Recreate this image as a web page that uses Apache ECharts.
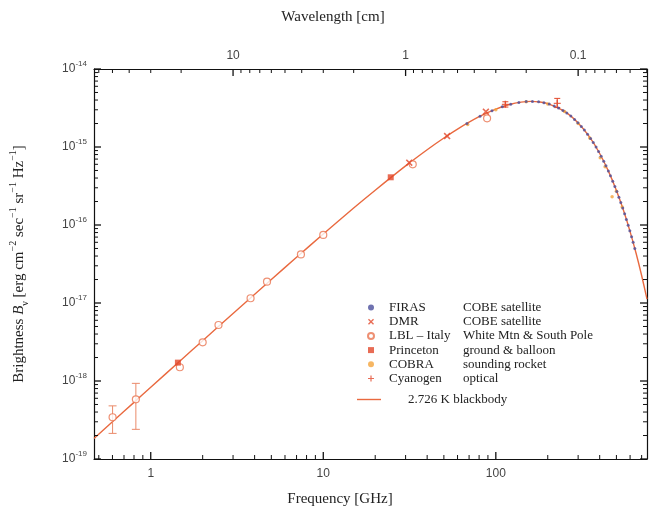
<!DOCTYPE html>
<html>
<head>
<meta charset="utf-8">
<title>Cosmic background spectrum</title>
<script src="https://cdn.jsdelivr.net/npm/echarts@6/dist/echarts.min.js"></script>
<style>
  html, body { margin: 0; padding: 0; background: #fff; }
  #chart { width: 649px; height: 511px; }
</style>
</head>
<body>
<div id="chart"></div>
<script>
// frequency in GHz, brightness in erg cm^-2 sec^-1 sr^-1 Hz^-1
const curveFreq = [0.469, 0.6, 0.8, 1, 1.5, 2, 3, 5, 7, 10, 15, 20, 30, 40, 50, 60, 80, 100, 120, 140,
  160, 180, 200, 250, 300, 350, 400, 450, 500, 550, 600, 650, 700, 752];
const curveB = [1.835e-19, 3.0e-19, 5.32e-19, 8.30e-19, 1.86e-18, 3.29e-18, 7.34e-18, 2.00e-17, 3.86e-17,
  7.66e-17, 1.65e-16, 2.79e-16, 5.72e-16, 9.23e-16, 1.306e-15, 1.698e-15, 2.443e-15, 3.061e-15, 3.504e-15,
  3.760e-15, 3.841e-15, 3.774e-15, 3.594e-15, 2.859e-15, 2.034e-15, 1.336e-15, 8.26e-16, 4.87e-16,
  2.77e-16, 1.53e-16, 8.23e-17, 4.34e-17, 2.25e-17, 1.12e-17];

const firasFreq = [68, 81, 95, 109, 122, 136, 150, 163, 177, 190, 204, 218, 231, 245, 258, 272, 286, 299,
  313, 326, 340, 354, 367, 381, 394, 408, 422, 435, 449, 462, 476, 490, 503, 517, 530, 544, 558, 571, 585,
  598, 612, 625, 639];
const firasB = [2.006e-15, 2.478e-15, 2.922e-15, 3.284e-15, 3.538e-15, 3.723e-15, 3.820e-15, 3.839e-15,
  3.792e-15, 3.696e-15, 3.547e-15, 3.361e-15, 3.167e-15, 2.942e-15, 2.725e-15, 2.490e-15, 2.258e-15,
  2.050e-15, 1.836e-15, 1.648e-15, 1.461e-15, 1.288e-15, 1.141e-15, 9.97e-16, 8.77e-16, 7.61e-16, 6.58e-16,
  5.73e-16, 4.93e-16, 4.27e-16, 3.65e-16, 3.11e-16, 2.68e-16, 2.27e-16, 1.95e-16, 1.65e-16, 1.39e-16,
  1.18e-16, 9.94e-17, 8.44e-17, 7.07e-17, 5.99e-17, 5.00e-17];

const dmrFreq = [31.5, 52.2, 87.6];
const dmrB = [6.3e-16, 1.38e-15, 2.84e-15];

const lblFreq = [0.601, 0.82, 1.475, 2.0, 2.47, 3.79, 4.72, 7.42, 10.0, 33.0, 89.0];
const lblB = [3.43e-19, 5.82e-19, 1.50e-18, 3.13e-18, 5.22e-18, 1.15e-17, 1.875e-17, 4.2e-17, 7.45e-17,
  6.0e-16, 2.33e-15];
const lblErrFreq = [0.601, 0.82];
const lblErrLow = [2.13e-19, 2.40e-19];
const lblErrHigh = [4.8e-19, 9.33e-19];

const princetonFreq = [1.437, 24.6];
const princetonB = [1.72e-18, 4.09e-16];

const cobraFreq = [68.7, 100, 150, 200, 250, 300, 350, 403, 430, 472, 500, 540];
const cobraB = [1.95e-15, 3.0e-15, 3.8e-15, 3.55e-15, 2.85e-15, 2.0e-15, 1.3e-15, 7.3e-16, 5.6e-16,
  2.3e-16, 2.7e-16, 1.7e-16];

const cyanFreq = [113.6, 227];
const cyanB = [3.52e-15, 3.63e-15];
const cyanLow = [3.25e-15, 3.2e-15];
const cyanHigh = [3.8e-15, 4.2e-15];

// legend rows: name and where the data came from
const legendNames = ['FIRAS', 'DMR', 'LBL – Italy', 'Princeton', 'COBRA', 'Cyanogen'];
const legendWhere = ['COBE satellite', 'COBE satellite', 'White Mtn & South Pole', 'ground & balloon',
  'sounding rocket', 'optical'];
const curveName = '2.726 K blackbody';

// tick labels
const freqLabels = [1, 10, 100];
const lambdaLabels = [10, 1, 0.1];
const brightLabels = [1e-19, 1e-18, 1e-17, 1e-16, 1e-15, 1e-14];

const xMin = 0.469;
const xMax = 752;
const yMin = 1e-19;
const yMax = 1e-14;
const steps = [2, 3, 4, 5, 6, 7, 8, 9];

// minor ticks at 2..9 of every decade
const minorOf = (decades, lo, hi) => {
  const out = [];
  decades.forEach((d) => steps.forEach((s) => {
    const v = s * d;
    if (v >= lo && v <= hi) out.push(v);
  }));
  return out;
};
// wavelength [cm] -> frequency [GHz]
const toFreq = (cm) => 30 / cm;

const freqMinor = minorOf([0.1, 1, 10, 100], xMin, xMax);
const lambdaMinor = minorOf([0.01, 0.1, 1, 10], 30 / xMax, 30 / xMin);
const brightMinor = minorOf([1e-19, 1e-18, 1e-17, 1e-16, 1e-15], yMin, yMax);

const MAJOR = 7;
const MINOR = 4;
const tickRows = (major, minor) => major.map((v) => [v, MAJOR]).concat(minor.map((v) => [v, MINOR]));

const pair = (xs, ys) => xs.map((x, i) => [x, ys[i]]);

const red = '#e2472a';
const lineColor = '#e9693f';
const ink = '#111';
const serif = 'Liberation Serif';
const tickFont = { fontFamily: 'Liberation Sans', fontSize: 12, color: '#444' };
const axisLine = { show: true, onZero: false, lineStyle: { color: ink, width: 1.2 } };

const xAxisOf = (position, labels, fmt) => ({
  type: 'log', logBase: 10, min: xMin, max: xMax, position,
  axisLine,
  axisTick: { show: false },
  axisLabel: Object.assign({ show: true, customValues: labels, formatter: fmt, margin: position === 'top' ? 7 : 9 }, tickFont),
  splitLine: { show: false }
});

const yAxisOf = (position, labels) => ({
  type: 'log', logBase: 10, min: yMin, max: yMax, position,
  axisLine,
  axisTick: { show: false },
  axisLabel: labels
    ? {
        show: true, customValues: labels, margin: 7,
        formatter: (v) => `{b|10}{s|${Math.round(Math.log10(v))}}`,
        rich: {
          b: Object.assign({ lineHeight: 18 }, tickFont),
          s: { fontFamily: 'Liberation Sans', fontSize: 8, color: '#444', lineHeight: 8, verticalAlign: 'top' }
        }
      }
    : { show: false },
  splitLine: { show: false }
});

// inward ticks on each side of the frame, placed through the axes
const tickSeries = (rows, side) => ({
  type: 'custom', silent: true, z: 10, clip: false,
  data: rows,
  renderItem: (params, api) => {
    const v = api.value(0);
    const len = api.value(1);
    let shape;
    if (side === 'bottom' || side === 'top') {
      const p = api.coord([v, side === 'bottom' ? yMin : yMax]);
      const d = side === 'bottom' ? -len : len;
      shape = { x1: p[0], y1: p[1], x2: p[0], y2: p[1] + d };
    } else {
      const p = api.coord([side === 'left' ? xMin : xMax, v]);
      const d = side === 'left' ? len : -len;
      shape = { x1: p[0], y1: p[1], x2: p[0] + d, y2: p[1] };
    }
    return { type: 'line', shape, style: { stroke: ink, lineWidth: len === MAJOR ? 1.3 : 1 } };
  }
});

const errorBars = (name, xs, lo, hi, color, cap) => ({
  type: 'custom', name, silent: true, z: 3,
  data: xs.map((x, i) => [x, lo[i], hi[i]]),
  encode: { x: 0, y: [1, 2] },
  renderItem: (params, api) => {
    const a = api.coord([api.value(0), api.value(1)]);
    const b = api.coord([api.value(0), api.value(2)]);
    const style = { stroke: color, lineWidth: 1 };
    return {
      type: 'group',
      children: [
        { type: 'line', shape: { x1: a[0], y1: a[1], x2: b[0], y2: b[1] }, style },
        { type: 'line', shape: { x1: a[0] - cap, y1: a[1], x2: a[0] + cap, y2: a[1] }, style },
        { type: 'line', shape: { x1: b[0] - cap, y1: b[1], x2: b[0] + cap, y2: b[1] }, style }
      ]
    };
  }
});

const crossPath = 'path://M0,1.6L1.6,0L5,3.4L8.4,0L10,1.6L6.6,5L10,8.4L8.4,10L5,6.6L1.6,10L0,8.4L3.4,5Z';
const plusPath = 'path://M4,0H6V4H10V6H6V10H4V6H0V4H4Z';

const chart = echarts.init(document.getElementById('chart'), null, { renderer: 'canvas' });

chart.setOption({
  animation: false,
  backgroundColor: '#fff',
  grid: { left: 91, right: 2, top: 69, bottom: 52, containLabel: false },
  xAxis: [
    xAxisOf('bottom', freqLabels, (v) => String(v)),
    xAxisOf('top', lambdaLabels.map(toFreq), (v) => String(+(30 / v).toPrecision(3)))
  ],
  yAxis: [
    Object.assign(yAxisOf('left', brightLabels), {
      name: '{t|Brightness }{i|B}{sub|ν}{t| [erg cm}{sup|−2}{t| sec}{sup|−1}{t| sr}{sup|−1}{t| Hz}{sup|−1}{t|]}',
      nameLocation: 'middle',
      nameRotate: 90,
      nameGap: 64,
      nameTextStyle: {
        rich: {
          t: { fontFamily: serif, fontSize: 15, color: '#222', lineHeight: 22 },
          i: { fontFamily: serif, fontSize: 15, color: '#222', lineHeight: 22, fontStyle: 'italic' },
          sub: { fontFamily: serif, fontSize: 10, color: '#222', lineHeight: 10, verticalAlign: 'bottom' },
          sup: { fontFamily: serif, fontSize: 10, color: '#222', lineHeight: 10, verticalAlign: 'top' }
        }
      }
    }),
    yAxisOf('right', null)
  ],
  legend: [
    {
      data: legendNames,
      orient: 'vertical',
      left: 367, top: 301, padding: 0, itemGap: 1.2,
      itemWidth: 6, itemHeight: 6,
      formatter: (name) => `{a|${name}}{b|${legendWhere[legendNames.indexOf(name)]}}`,
      textStyle: {
        fontFamily: serif, fontSize: 13, color: '#222',
        rich: {
          a: { fontFamily: serif, fontSize: 13, color: '#222', lineHeight: 14, width: 74, padding: [0, 0, 0, 10] },
          b: { fontFamily: serif, fontSize: 13, color: '#222', lineHeight: 14 }
        }
      },
      selectedMode: false
    },
    {
      data: [{ name: curveName, icon: 'rect' }],
      left: 357, top: 393, padding: 0,
      itemWidth: 24, itemHeight: 1.4,
      formatter: (name) => `{a|${name}}`,
      textStyle: {
        rich: { a: { fontFamily: serif, fontSize: 13, color: '#222', lineHeight: 14, padding: [0, 0, 0, 22] } }
      },
      selectedMode: false
    }
  ],
  graphic: [
    { type: 'text', style: { x: 333, y: 17, text: 'Wavelength [cm]', font: '15px "Liberation Serif"', fill: '#222', textAlign: 'center', textVerticalAlign: 'middle' } },
    { type: 'text', style: { x: 340, y: 499, text: 'Frequency [GHz]', font: '15px "Liberation Serif"', fill: '#222', textAlign: 'center', textVerticalAlign: 'middle' } }
  ],
  series: [
    tickSeries(tickRows(freqLabels, freqMinor), 'bottom'),
    tickSeries(tickRows(lambdaLabels.map(toFreq), lambdaMinor.map(toFreq)), 'top'),
    tickSeries(tickRows(brightLabels, brightMinor), 'left'),
    tickSeries(tickRows(brightLabels, brightMinor), 'right'),
    {
      name: curveName, type: 'line', data: pair(curveFreq, curveB), smooth: 0.3,
      symbol: 'none', lineStyle: { color: lineColor, width: 1.4 }, itemStyle: { color: lineColor }, z: 2
    },
    errorBars('LBL err', lblErrFreq, lblErrLow, lblErrHigh, '#ea8a6a', 4),
    errorBars('Cyanogen err', cyanFreq, cyanLow, cyanHigh, red, 3),
    {
      name: 'LBL – Italy', type: 'scatter', data: pair(lblFreq, lblB), symbol: 'circle', symbolSize: 7,
      itemStyle: { color: '#fff', borderColor: '#ea7450', borderWidth: 1.2 }, z: 4
    },
    {
      name: 'Princeton', type: 'scatter', data: pair(princetonFreq, princetonB), symbol: 'rect', symbolSize: 6,
      itemStyle: { color: red }, z: 5
    },
    {
      name: 'DMR', type: 'scatter', data: pair(dmrFreq, dmrB), symbol: crossPath, symbolSize: 7,
      itemStyle: { color: red }, z: 5
    },
    {
      name: 'Cyanogen', type: 'scatter', data: pair(cyanFreq, cyanB), symbol: plusPath, symbolSize: 7,
      itemStyle: { color: red }, z: 5
    },
    {
      name: 'COBRA', type: 'scatter', data: pair(cobraFreq, cobraB), symbol: 'circle', symbolSize: 3.5,
      itemStyle: { color: '#f4a43c' }, z: 5
    },
    {
      name: 'FIRAS', type: 'scatter', data: pair(firasFreq, firasB), symbol: 'circle', symbolSize: 3,
      itemStyle: { color: '#4b4f9c' }, z: 6
    }
  ]
});
</script>
</body>
</html>
